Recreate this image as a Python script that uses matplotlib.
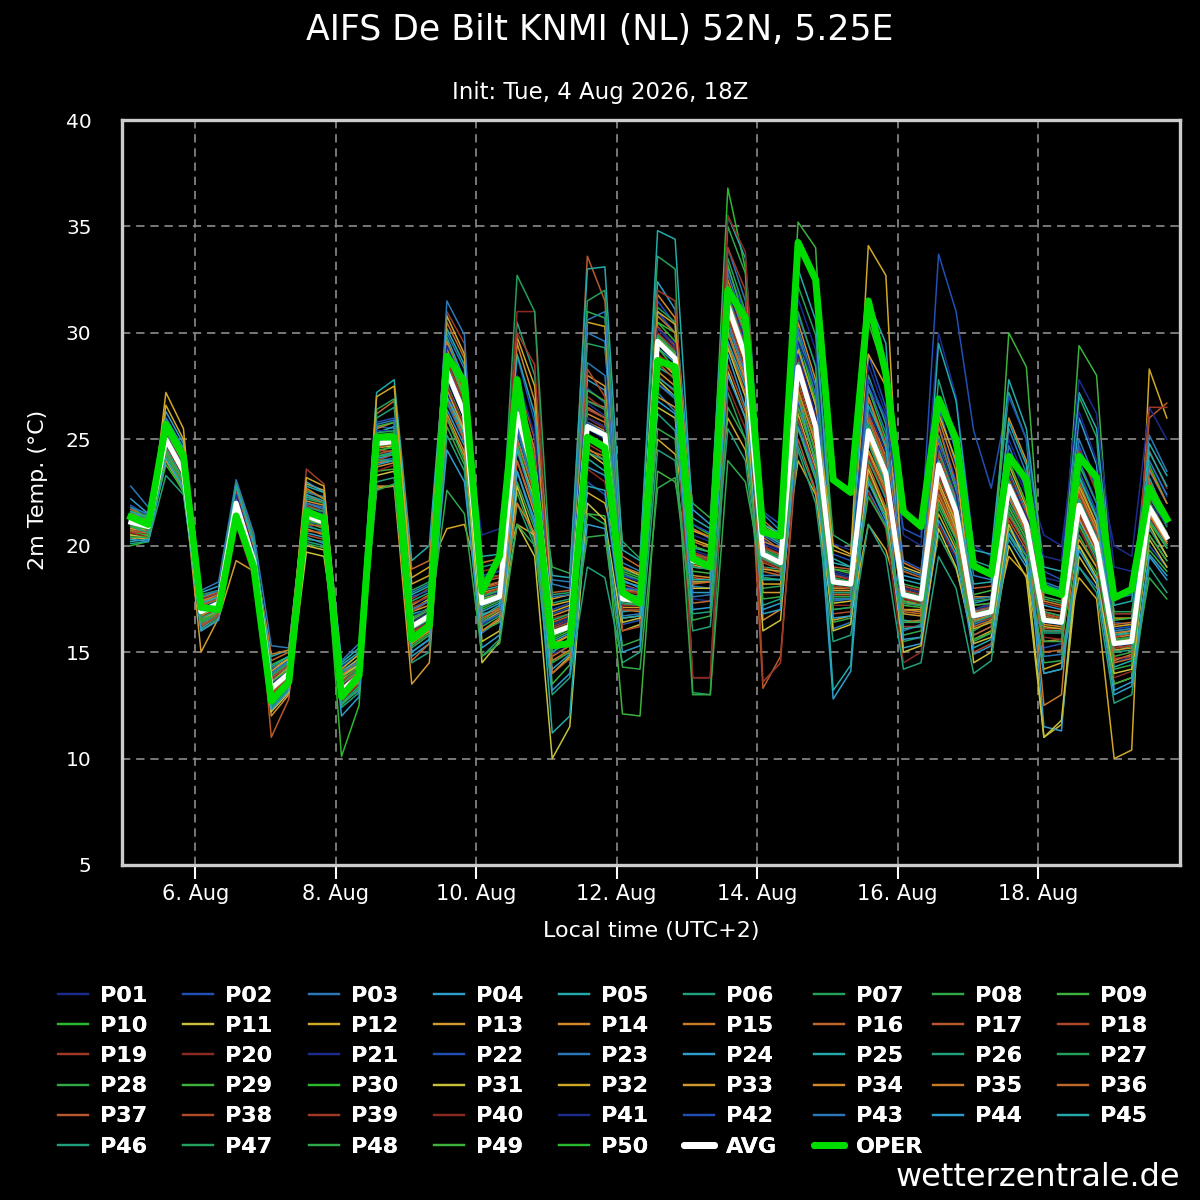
import numpy as np
import pandas as pd
import matplotlib
matplotlib.use('Agg')
import matplotlib.pyplot as plt
from matplotlib.lines import Line2D

# 6-hourly steps, local time (UTC+2)
times = pd.date_range('2026-08-05 02:00', periods=60, freq='6h')

avg = [21.1, 20.9, 25.0, 23.5, 16.9, 17.3, 22.0, 19.3, 13.3, 14.0, 21.4, 21.1,
       13.2, 13.9, 24.8, 24.9, 16.2, 16.7, 28.2, 26.2, 17.3, 17.6, 26.2, 23.3,
       15.9, 16.2, 25.6, 25.2, 17.5, 17.4, 29.6, 28.8, 19.3, 19.1, 31.3, 28.9,
       19.6, 19.2, 28.4, 25.6, 18.3, 18.2, 25.4, 23.4, 17.7, 17.5, 23.8, 21.6,
       16.7, 16.9, 22.8, 21.0, 16.5, 16.4, 21.9, 20.1, 15.4, 15.5, 21.8, 20.4]

oper = [21.35, 21.0, 25.7, 24.2, 17.1, 17.0, 21.4, 19.0, 12.7, 13.6, 21.6, 21.3,
        12.9, 13.9, 25.1, 25.1, 15.6, 16.25, 28.9, 27.7, 17.85, 19.5, 27.8, 23.0,
        15.3, 15.4, 25.1, 24.6, 17.8, 17.3, 28.7, 28.4, 19.4, 19.0, 32.0, 30.7,
        20.65, 20.45, 34.25, 32.5, 23.1, 22.5, 31.5, 28.1, 21.6, 20.9, 26.9, 25.0,
        19.05, 18.65, 24.2, 23.1, 18.0, 17.7, 24.2, 23.2, 17.55, 17.95, 22.7, 21.25]

# ensemble members P01..P50, one string of 60 values each
members = [
    "21.3 21.1 24.8 23.3 17.3 17.6 22.3 19.6 13.0 13.8 21.9 21.5 13.6 14.3 24.2 24.4 17.2 17.6 29.1 27.0 17.6 17.9 24.4 21.8 14.9 15.3 26.7 26.1 18.6 18.3 30.2 29.3 17.5 17.4 30.0 27.5 20.2 19.8 31.6 29.2 20.1 19.8 27.5 25.9 17.0 16.9 21.0 19.3 17.0 17.3 24.3 22.4 18.5 18.3 23.2 21.3 14.5 14.8 24.0 22.3",
    "20.8 20.6 25.6 24.0 16.5 17.0 21.6 19.0 13.8 14.4 21.0 20.6 12.9 13.6 25.6 25.5 15.6 16.3 27.3 25.2 18.6 18.8 28.9 25.8 16.8 17.1 23.0 22.4 16.3 16.5 31.5 30.4 20.8 20.3 33.0 30.9 18.5 18.4 26.8 24.0 17.0 17.1 29.0 26.5 19.3 18.9 25.7 23.0 15.8 16.2 21.0 19.6 15.2 15.4 24.7 22.6 16.4 16.3 20.0 19.0",
    "21.6 21.2 24.4 23.0 17.4 17.8 22.6 19.9 12.7 13.5 22.0 21.8 13.8 14.5 24.0 24.1 17.8 18.2 30.0 28.3 15.9 16.5 26.9 23.8 18.2 18.0 28.6 28.0 19.2 18.8 27.2 26.3 18.1 18.0 34.0 31.5 21.5 20.7 30.0 27.1 16.1 16.4 22.6 21.0 16.0 16.3 26.5 23.8 18.6 18.4 25.5 23.4 14.8 14.9 19.0 18.0 17.5 17.7 25.2 23.5",
    "22.2 21.5 26.0 24.6 17.8 18.1 21.2 18.6 14.0 14.6 20.6 20.4 12.6 13.2 23.9 24.0 15.0 15.6 26.4 24.7 16.8 17.0 23.5 21.0 14.2 14.9 27.8 27.3 18.4 18.0 32.4 31.1 21.7 21.0 29.0 26.5 17.0 17.3 27.0 23.8 12.8 14.1 24.1 22.2 18.6 18.4 22.0 20.3 17.3 17.5 20.3 19.0 17.2 17.0 26.0 23.8 13.2 13.6 19.6 18.6",
    "20.5 20.4 25.3 23.8 16.2 16.9 22.4 19.8 13.6 14.2 22.3 22.0 14.1 14.7 25.3 25.6 16.8 17.0 28.8 27.2 17.9 18.1 25.1 22.5 15.0 15.6 24.1 23.5 16.9 17.0 28.4 27.9 19.9 19.7 31.9 29.4 20.6 20.1 29.4 26.6 19.4 19.0 26.9 24.6 16.5 16.4 24.6 22.0 15.2 15.6 23.5 21.6 18.0 17.8 22.5 20.7 14.3 14.6 23.2 21.3",
    "21.0 20.8 24.6 23.2 17.1 17.4 22.1 19.5 12.4 13.3 20.9 20.7 13.4 14.0 26.0 26.5 17.4 17.8 29.5 27.8 19.0 19.2 30.5 28.0 17.3 17.5 26.5 26.0 18.9 18.6 26.2 25.4 16.8 16.9 30.2 27.8 19.0 18.9 24.7 22.5 18.7 18.5 28.0 25.7 17.9 17.6 27.8 25.0 19.3 19.0 27.2 25.0 15.9 15.9 21.0 19.3 16.0 16.1 20.8 19.5",
    "21.4 21.0 25.9 24.3 16.7 17.1 21.7 19.2 13.9 14.5 21.8 21.3 12.9 13.7 24.5 24.6 16.0 16.4 27.6 25.7 16.2 16.7 22.5 20.2 16.5 16.8 29.5 29.3 20.2 19.4 33.6 33.0 13.1 13.0 27.2 25.0 18.0 18.1 32.2 29.9 20.5 20.0 24.0 22.3 15.5 15.7 20.5 18.9 16.0 16.5 22.4 20.7 17.5 17.3 27.0 25.1 15.0 15.3 22.6 21.0",
    "20.7 20.7 24.2 22.8 16.0 16.6 21.9 19.1 13.0 13.7 20.3 20.2 13.9 14.6 24.6 24.8 15.3 15.9 25.6 23.8 17.0 17.4 27.5 24.5 19.0 18.7 31.0 30.7 17.8 17.6 29.0 28.0 22.0 21.3 35.0 32.8 19.9 19.5 28.0 25.0 17.6 17.6 25.2 23.0 18.2 18.0 23.2 21.4 16.4 16.8 22.0 20.5 16.7 16.5 20.5 19.0 14.8 15.0 21.2 19.9",
    "21.8 21.3 25.4 24.0 17.6 17.8 22.8 20.2 14.4 14.8 22.6 22.2 13.3 14.1 23.5 23.6 16.6 17.1 28.4 26.4 17.4 17.7 26.0 23.0 13.5 14.4 21.5 21.4 12.1 12.0 23.5 23.0 18.8 18.7 33.2 30.4 20.9 20.4 25.5 23.1 18.9 18.8 30.5 28.0 17.2 17.1 22.5 20.7 17.7 17.9 21.5 20.0 16.0 16.0 23.8 22.0 15.8 16.0 19.8 18.8",
    "20.0 20.2 24.0 22.5 16.4 16.9 22.5 19.9 12.9 13.6 21.2 20.9 10.1 12.5 25.2 25.3 15.8 16.3 29.0 26.8 16.5 17.0 24.8 22.0 15.6 16.0 25.0 24.6 17.2 17.3 30.5 29.6 21.0 20.5 36.8 33.0 19.5 19.3 29.8 26.8 18.0 18.0 27.4 25.0 17.9 17.7 25.2 22.6 17.0 17.2 24.0 22.0 17.8 17.6 22.2 20.3 15.5 15.7 23.8 22.0",
    "21.2 21.0 25.2 23.7 17.0 17.3 21.5 19.0 13.5 14.1 20.0 19.8 13.7 14.3 23.3 23.5 17.0 17.5 27.0 25.3 15.5 16.0 21.0 19.5 10.0 11.5 22.0 21.2 16.0 16.3 27.8 27.0 18.3 18.3 28.2 26.0 21.0 20.5 26.5 24.0 17.3 17.4 23.0 21.4 19.0 18.7 24.0 21.8 14.5 15.0 20.0 18.5 11.0 11.6 19.5 18.2 13.5 13.8 21.0 19.5",
    "20.4 20.3 27.2 25.5 16.3 16.8 21.5 19.0 14.2 14.7 22.9 22.6 14.0 14.7 22.7 22.8 18.5 19.0 20.8 21.0 18.0 18.3 21.0 20.5 16.9 17.2 22.5 22.0 19.0 18.6 25.0 24.3 20.3 20.0 26.0 24.5 18.2 18.2 24.0 22.4 16.5 16.7 21.0 19.8 17.0 17.0 21.5 19.8 15.6 16.0 19.5 18.6 14.2 14.5 18.5 17.5 10.0 10.4 28.3 26.0",
    "20.3 20.5 24.5 23.0 15.0 16.6 19.3 18.8 13.2 14.0 21.4 21.0 13.0 13.8 22.8 22.8 13.5 14.5 26.0 24.2 16.0 16.5 24.0 21.5 17.5 17.7 28.0 27.5 16.6 16.7 27.0 26.5 19.5 19.3 31.0 28.5 17.8 17.8 27.5 24.8 19.8 19.5 29.0 27.5 16.8 16.7 22.8 20.8 16.5 16.7 21.8 20.3 15.5 15.6 20.3 19.0 16.6 16.6 22.0 20.5",
    "21.5 21.2 24.7 23.3 17.2 17.5 22.2 19.4 12.0 13.0 20.8 20.5 13.5 14.1 24.8 25.0 16.4 16.9 29.3 27.1 17.8 18.0 29.5 26.8 15.3 15.8 26.0 25.6 18.0 17.8 31.8 30.7 19.0 18.9 31.8 29.2 16.5 17.0 30.5 27.8 17.8 17.8 24.5 22.7 17.4 17.2 23.0 21.0 16.8 17.0 26.0 24.0 16.3 16.2 21.5 19.8 15.2 15.3 20.5 19.3",
    "20.9 20.8 25.6 24.0 16.6 17.0 22.7 19.9 13.4 14.1 21.6 21.3 12.8 13.5 25.5 25.8 15.5 16.0 28.0 26.0 19.2 19.4 27.4 24.5 16.0 16.3 26.8 26.5 17.0 16.9 30.0 29.0 20.2 19.9 32.5 30.0 20.4 19.8 27.0 24.5 18.4 18.3 26.2 24.2 16.4 16.5 26.0 23.5 17.5 17.6 23.2 21.3 12.5 13.0 22.6 20.8 14.6 14.9 21.4 20.1",
    "21.7 21.3 24.9 23.4 17.4 17.6 21.4 18.9 14.6 15.0 22.4 22.0 14.0 14.6 26.2 26.8 18.9 19.3 30.5 28.8 16.6 17.0 25.6 23.0 14.8 15.3 24.6 24.0 19.5 19.0 28.8 28.0 17.3 17.4 29.5 27.2 21.2 20.5 29.0 26.0 18.2 18.1 23.8 21.8 18.8 18.5 25.6 22.8 16.2 16.5 23.0 21.0 17.0 16.9 23.0 21.0 16.3 16.4 23.0 21.5",
    "21.0 20.9 25.1 23.6 16.8 17.2 23.0 20.4 11.0 12.8 22.0 21.7 13.1 13.8 24.3 24.5 15.9 16.4 26.8 24.9 18.3 18.5 24.0 21.7 17.8 17.9 33.6 31.5 18.2 17.9 28.6 27.8 18.5 18.4 30.6 28.2 13.3 14.8 25.0 22.6 19.0 18.9 25.5 23.5 17.5 17.3 23.5 21.5 18.0 18.1 21.2 19.8 16.9 16.7 21.8 20.0 15.6 15.7 26.0 26.7",
    "20.6 20.6 25.7 24.2 16.3 16.8 21.8 19.2 13.1 13.8 20.5 20.3 13.6 14.4 24.0 24.3 16.3 16.8 28.6 26.5 18.0 18.2 27.8 25.0 15.8 16.2 28.3 27.0 16.0 16.2 29.8 29.1 13.8 13.8 28.5 26.3 19.2 18.9 28.2 25.3 16.8 16.9 27.0 24.8 18.1 17.9 23.4 21.2 15.0 15.4 21.4 20.0 16.1 16.1 22.0 20.3 14.7 14.8 21.9 20.6",
    "21.3 21.0 24.3 22.9 17.0 17.4 22.2 19.6 13.7 14.3 23.6 22.9 13.3 14.0 25.0 25.2 17.5 18.0 31.0 29.5 17.2 17.5 26.4 23.4 16.2 16.5 27.0 26.4 17.6 17.5 32.0 31.5 19.7 19.4 30.8 28.4 19.0 18.7 28.6 25.5 18.6 18.4 23.4 21.6 16.2 16.2 22.6 20.5 16.7 16.9 22.6 20.9 17.3 17.1 24.5 22.5 16.8 16.8 21.5 20.2",
    "20.8 20.5 24.6 23.1 16.9 17.2 21.0 18.5 13.4 14.0 21.3 21.0 12.7 13.5 23.5 23.8 17.1 17.4 27.5 25.6 18.8 19.0 31.0 31.0 14.6 15.0 23.6 23.0 17.9 17.7 28.0 27.2 13.8 13.8 27.5 25.5 20.0 19.6 27.5 24.7 17.2 17.2 22.5 20.8 14.5 15.0 21.0 19.5 17.2 17.3 23.4 21.5 15.7 15.6 20.8 19.2 13.8 14.1 24.5 22.7",
    "21.1 20.9 25.5 24.1 17.5 17.7 22.0 19.5 13.6 14.3 21.5 21.4 13.4 14.2 25.4 25.4 16.7 17.0 27.8 26.0 20.5 20.8 28.0 25.2 16.1 16.5 25.5 25.0 17.7 17.5 30.8 30.0 20.5 20.2 31.5 29.0 20.3 19.8 29.6 27.5 18.8 18.6 28.5 26.2 20.5 20.0 30.0 27.0 20.0 19.5 25.0 23.0 20.5 20.0 26.3 24.0 20.0 19.5 26.5 25.0",
    "21.9 21.4 25.0 23.6 17.3 17.5 22.6 20.0 14.2 14.6 21.1 21.0 14.3 14.9 25.8 26.0 17.6 17.9 28.0 26.2 16.3 16.8 25.4 22.6 17.0 17.3 27.4 26.7 18.6 18.4 31.0 30.0 21.0 20.6 30.4 28.0 21.6 21.0 30.8 28.5 19.6 19.3 27.8 26.0 20.8 20.4 33.7 31.0 25.4 22.7 27.0 25.0 18.8 18.4 23.5 21.6 16.1 16.2 23.5 22.0",
    "22.8 21.8 25.8 24.4 17.9 18.3 23.1 20.6 15.3 15.2 22.5 22.3 14.6 15.4 25.1 25.2 16.0 16.6 26.7 25.0 17.6 17.9 26.6 23.7 18.4 18.3 30.0 29.6 16.7 16.8 27.6 26.9 19.2 19.0 32.8 30.2 18.6 18.6 25.9 23.4 18.1 18.0 26.0 24.0 17.6 17.4 25.0 22.8 16.3 16.6 22.2 20.6 18.3 18.0 25.0 23.0 15.3 15.4 22.3 21.0",
    "21.4 21.1 26.3 24.8 16.6 17.0 21.3 18.7 13.8 14.4 23.0 22.5 13.0 13.6 24.1 24.3 14.8 15.4 29.8 27.8 16.9 17.3 25.8 22.9 15.5 15.9 23.7 23.3 18.3 18.1 29.3 28.6 17.8 17.8 31.2 28.8 19.7 19.4 28.8 25.8 17.5 17.5 24.9 22.9 15.2 15.4 24.3 22.2 16.9 17.1 22.9 21.0 11.5 11.3 21.2 19.6 15.9 16.0 21.7 20.3",
    "20.2 20.3 24.9 23.4 16.1 16.7 21.2 18.8 14.8 15.1 22.8 22.5 14.5 15.2 27.2 27.8 19.3 20.0 30.2 28.5 19.5 19.6 29.0 26.2 18.6 18.5 33.0 33.1 19.8 19.3 34.8 34.4 21.3 20.8 35.5 33.5 21.0 20.6 33.0 30.6 19.2 19.0 31.5 29.5 18.4 18.2 29.5 26.8 19.8 19.6 27.8 25.5 19.0 18.8 27.2 25.5 17.2 17.4 24.8 23.3",
    "20.1 20.2 23.3 22.4 16.4 16.7 21.9 19.0 12.6 13.5 20.2 20.0 12.4 13.1 23.0 23.2 14.5 15.0 25.2 23.5 14.8 15.6 22.0 20.0 13.0 13.8 19.0 18.5 14.5 15.0 24.5 24.0 16.0 16.2 25.5 24.0 17.2 17.5 24.5 22.0 15.5 15.8 21.0 19.5 14.2 14.5 19.5 18.0 14.0 14.6 20.5 19.2 14.0 14.2 19.0 17.8 12.6 13.0 19.0 17.8",
    "21.6 21.4 25.8 24.2 17.7 17.9 22.9 20.3 13.9 14.5 22.2 22.0 13.6 14.3 26.4 26.9 17.9 18.3 29.7 27.6 18.5 18.6 32.7 31.0 17.7 17.8 31.5 32.0 18.7 18.4 31.2 30.5 19.6 19.3 33.5 31.0 20.6 20.2 31.0 28.4 18.3 18.2 24.8 22.8 17.7 17.6 24.4 22.3 17.4 17.5 21.6 20.1 16.4 16.4 23.3 21.4 16.9 16.9 22.3 20.9",
    "20.9 20.7 24.3 22.8 16.8 17.1 21.6 19.1 12.6 13.4 20.1 19.9 12.5 13.3 22.6 22.9 15.2 15.8 26.0 24.0 16.0 16.4 23.0 20.8 16.3 16.6 21.5 21.0 15.3 15.6 25.5 25.0 13.0 13.0 24.0 23.0 18.5 18.4 27.2 24.3 16.4 16.6 23.2 21.4 15.8 16.0 21.8 20.0 15.5 15.9 20.8 19.5 14.5 14.6 20.0 18.7 13.5 13.8 18.5 17.5",
    "21.2 21.0 25.3 23.9 17.1 17.5 22.4 19.7 13.5 14.2 21.7 21.4 13.8 14.4 25.6 25.8 16.5 17.0 28.9 27.0 17.1 17.5 26.5 23.5 15.2 15.6 27.3 26.8 18.8 18.5 30.5 30.0 20.0 19.7 32.2 29.9 20.8 20.3 35.2 34.0 18.9 18.7 25.9 23.8 17.4 17.3 23.9 21.7 17.2 17.3 30.0 28.4 17.6 17.4 29.4 28.0 16.5 16.6 21.1 19.9",
    "20.6 20.5 23.8 22.6 16.5 16.9 22.1 19.3 13.3 14.0 21.1 20.8 13.2 13.9 24.4 24.7 16.1 16.6 28.2 26.1 17.7 17.9 25.8 22.8 15.7 16.1 25.2 24.8 17.4 17.3 29.3 28.3 19.4 19.2 31.5 28.7 19.8 19.4 28.5 25.6 18.5 18.3 25.3 23.2 17.8 17.5 23.6 21.6 16.6 16.9 22.6 20.9 16.6 16.4 21.8 20.1 15.4 15.5 21.9 20.4",
    "20.5 20.4 25.5 24.0 16.7 17.1 21.1 18.9 12.2 13.1 19.7 19.5 13.9 14.4 24.6 24.7 15.7 16.2 27.4 25.4 14.5 15.5 22.8 20.4 14.0 14.8 24.4 23.8 16.4 16.6 26.5 26.0 18.0 18.0 29.3 27.0 16.0 16.5 26.2 23.6 16.0 16.3 23.6 21.6 15.0 15.3 20.8 19.0 15.4 15.7 21.0 19.2 11.0 11.8 20.0 18.5 14.0 14.2 20.3 19.0",
    "21.3 21.0 26.6 25.0 17.6 17.8 22.5 19.9 14.1 14.7 23.2 22.8 14.2 14.9 27.0 27.5 18.2 18.6 30.8 29.0 17.5 17.8 29.8 27.5 17.2 17.4 30.5 30.3 18.5 18.2 31.0 30.4 20.7 20.4 30.0 27.8 18.9 18.8 29.2 26.6 20.0 19.6 34.1 32.7 17.3 17.2 26.2 24.0 16.1 16.4 23.8 21.8 16.2 16.1 22.8 21.0 16.2 16.3 22.8 21.3",
    "20.8 20.7 24.0 22.7 16.6 16.9 21.7 19.1 13.6 14.3 21.6 21.2 13.1 13.9 25.1 25.0 16.9 17.2 27.4 25.5 16.4 16.9 24.5 22.2 15.4 15.8 25.8 25.4 17.1 17.1 28.8 28.0 19.1 18.9 31.0 28.6 19.3 19.0 27.8 25.2 17.9 17.9 25.0 23.1 17.6 17.4 23.0 21.1 16.6 16.8 22.3 20.7 16.5 16.3 21.3 19.7 15.1 15.2 21.5 20.2",
    "21.5 21.2 24.8 23.3 17.3 17.6 21.8 19.2 13.1 13.9 22.1 21.9 12.9 13.6 23.7 23.9 15.4 16.0 26.2 24.4 17.3 17.6 27.0 24.0 16.7 17.0 26.2 25.8 17.3 17.2 28.2 27.5 18.6 18.5 30.5 28.0 19.4 19.1 27.3 24.8 18.0 18.0 24.4 22.5 17.0 16.9 22.2 20.4 17.6 17.6 22.7 21.0 16.8 16.6 21.6 19.9 15.7 15.8 21.6 20.1",
    "21.0 20.9 25.8 24.2 17.4 17.7 22.3 19.7 14.9 15.1 22.7 22.2 13.9 14.6 23.9 24.0 17.2 17.7 29.6 27.5 16.0 16.6 22.0 20.6 14.6 15.1 24.5 24.2 19.0 18.7 30.8 30.0 20.8 20.4 32.2 29.6 20.2 19.9 28.0 25.4 18.3 18.2 27.0 24.6 19.2 18.8 24.8 22.3 16.5 16.7 23.0 21.2 17.4 17.2 22.5 20.6 15.9 16.0 23.6 22.0",
    "20.7 20.6 24.5 23.1 16.7 17.0 22.0 19.5 12.8 13.6 20.7 20.6 13.5 14.1 24.7 24.9 14.6 15.4 27.0 25.0 16.7 17.1 25.0 22.4 14.0 14.7 26.5 26.0 17.6 17.5 29.0 28.1 18.2 18.3 30.0 27.7 18.8 18.6 28.4 25.6 17.7 17.7 26.0 23.9 16.9 16.8 22.4 20.6 15.8 16.2 22.3 20.6 15.0 15.1 22.0 20.3 14.5 14.7 22.1 20.6",
    "21.2 21.1 24.4 23.0 17.2 17.5 21.3 19.0 13.3 14.0 21.0 20.9 13.2 14.0 24.5 24.4 16.6 17.0 28.0 26.0 18.1 18.3 27.2 24.2 16.4 16.7 25.0 24.5 17.5 17.4 29.5 28.8 19.3 19.1 31.2 28.8 19.6 19.3 28.3 25.5 18.4 18.3 25.6 23.6 17.5 17.4 23.8 21.6 16.9 17.0 22.8 20.9 16.7 16.5 22.2 20.3 15.5 15.6 21.7 20.3",
    "20.6 20.7 25.1 23.7 16.2 16.7 22.1 19.3 13.8 14.4 21.9 21.6 13.3 13.9 24.6 24.8 16.9 17.4 29.0 27.3 17.7 18.0 26.0 23.3 16.1 16.4 26.4 26.0 17.9 17.8 30.3 29.4 19.6 19.4 31.8 29.5 19.9 19.6 28.8 26.0 18.6 18.5 26.2 24.0 18.0 17.8 24.3 22.0 17.0 17.1 23.3 21.5 16.8 16.6 22.4 20.6 15.7 15.9 21.9 20.6",
    "21.4 21.1 25.2 23.8 17.5 17.8 22.5 19.8 13.0 13.8 21.5 21.2 13.6 14.2 25.0 25.1 17.3 17.6 28.7 26.7 18.4 18.6 30.0 28.5 15.9 16.3 24.8 24.3 17.0 17.0 30.0 29.2 19.5 19.3 34.0 32.0 13.6 14.5 26.0 23.5 18.1 18.0 24.2 22.4 17.9 17.7 23.3 21.4 16.4 16.6 22.5 20.8 16.0 16.0 21.4 19.8 15.2 15.3 26.5 26.5",
    "20.6 20.4 24.7 23.2 16.6 17.1 21.6 19.0 13.5 14.1 21.2 21.0 13.4 14.0 24.9 24.9 16.0 16.4 27.5 25.6 17.3 17.6 25.9 23.0 16.6 16.8 26.0 25.5 17.2 17.2 29.0 28.4 19.4 19.2 35.5 33.8 19.3 19.0 27.9 25.2 18.2 18.1 25.2 23.3 17.5 17.3 23.5 21.4 16.7 16.9 22.6 20.9 16.5 16.4 21.6 19.9 15.3 15.4 21.3 20.0",
    "21.3 21.0 25.2 23.7 17.1 17.4 22.4 19.7 13.5 14.2 21.5 21.3 13.3 14.0 25.1 25.2 16.4 16.9 29.4 27.6 17.6 17.8 26.8 23.9 16.3 16.6 26.0 25.6 18.1 17.9 30.2 29.5 19.8 19.5 32.0 29.6 20.1 19.7 29.0 26.2 18.7 18.5 26.4 24.4 18.0 17.8 24.7 22.4 17.0 17.2 23.3 21.4 19.5 19.3 27.8 26.2 19.0 18.8 22.0 21.0",
    "21.0 20.8 24.9 23.4 16.9 17.3 22.2 19.4 13.2 13.9 21.3 21.0 13.1 13.8 24.9 25.0 16.2 16.6 28.5 26.4 17.2 17.5 26.3 23.3 15.8 16.1 25.8 25.3 17.4 17.3 29.7 28.9 19.2 19.0 31.4 28.9 19.6 19.2 28.3 25.6 18.2 18.1 25.3 23.3 17.6 17.4 23.7 21.5 16.6 16.8 22.7 20.9 16.4 16.3 21.8 20.1 15.3 15.4 21.8 20.3",
    "21.8 21.5 26.0 24.5 17.6 17.9 21.8 19.3 14.0 14.6 22.0 21.7 14.0 14.6 25.7 25.9 17.0 17.4 31.5 29.9 16.4 16.8 25.6 22.5 17.6 17.7 30.6 31.0 18.0 17.9 27.6 27.0 17.6 17.7 30.5 28.1 20.5 20.0 30.2 27.5 17.4 17.5 27.5 25.3 18.9 18.6 27.0 24.4 17.5 17.6 24.7 22.6 18.2 17.9 24.0 22.0 16.0 16.1 24.0 22.4",
    "20.3 20.2 24.1 22.7 16.0 16.5 21.4 18.8 12.3 13.2 20.4 20.1 12.0 12.9 23.8 24.0 15.0 15.6 24.5 23.0 15.2 15.8 23.5 21.2 13.2 14.0 21.0 20.8 15.0 15.3 26.8 26.2 17.0 17.1 28.0 26.0 16.8 17.0 25.6 23.3 16.6 16.7 23.0 21.2 15.6 15.7 21.2 19.6 14.9 15.3 20.6 19.3 14.0 14.2 19.8 18.4 13.0 13.4 19.5 18.4",
    "21.6 21.3 25.0 23.6 17.3 17.6 22.8 20.1 14.3 14.8 22.4 22.1 14.4 15.0 24.2 24.4 17.7 18.1 27.0 25.2 16.7 17.2 24.6 21.8 11.2 12.0 22.8 22.6 16.6 16.7 27.9 27.3 18.4 18.4 29.6 27.5 18.4 18.4 28.0 25.5 13.2 14.4 26.6 24.7 16.1 16.2 24.0 22.0 18.2 18.3 25.8 23.8 17.9 17.6 23.2 21.3 15.8 15.9 24.4 22.8",
    "20.9 20.6 24.6 23.1 16.6 17.0 21.5 19.0 12.5 13.4 21.4 21.0 12.6 13.4 24.0 24.0 16.1 16.5 28.3 26.4 17.4 17.7 26.7 23.6 15.0 15.5 24.4 24.0 17.3 17.2 29.8 28.9 19.0 18.9 31.6 29.0 19.4 19.0 28.6 25.8 17.8 17.8 25.7 23.6 17.3 17.2 23.8 21.7 16.4 16.7 22.5 20.9 16.0 16.0 22.2 20.4 15.0 15.1 21.2 20.0",
    "21.4 21.3 25.6 24.1 17.0 17.3 21.9 19.4 13.9 14.5 21.8 21.6 13.5 14.2 25.3 25.4 16.6 17.0 28.1 26.2 17.6 17.9 26.9 23.9 16.5 16.8 26.8 26.4 17.7 17.6 29.9 29.1 19.4 19.2 31.7 29.2 19.8 19.4 28.4 25.7 18.5 18.3 25.6 23.6 17.8 17.6 23.9 21.7 16.8 17.0 23.0 21.2 16.9 16.7 22.0 20.2 15.6 15.7 22.0 20.6",
    "20.4 20.4 24.4 23.0 16.4 16.9 21.7 19.2 13.2 13.9 21.2 21.0 13.2 13.8 24.2 24.3 15.8 16.3 22.6 21.5 14.8 15.4 21.0 20.0 14.5 15.0 20.4 20.5 14.3 14.2 22.7 23.2 16.5 16.7 26.5 25.0 17.5 17.6 26.5 24.0 17.0 17.1 22.3 20.9 16.4 16.4 22.0 20.3 15.6 15.9 21.8 20.3 15.5 15.5 21.0 19.5 14.2 14.4 20.5 19.3",
    "21.1 20.9 25.5 24.0 17.0 17.3 22.0 19.4 13.6 14.2 21.2 21.0 13.2 13.9 25.0 25.0 16.3 16.8 28.3 26.3 17.5 17.7 26.4 23.4 16.0 16.3 25.7 25.3 17.4 17.3 29.8 29.0 19.3 19.1 31.5 29.0 19.5 19.2 28.5 25.6 18.3 18.2 25.5 23.5 17.6 17.5 23.9 21.7 16.8 17.0 23.0 21.1 16.6 16.5 22.0 20.2 15.5 15.6 21.9 20.5",
    "20.9 20.8 25.0 23.5 16.8 17.2 22.0 19.3 13.3 14.0 21.4 21.1 13.0 13.8 24.7 24.8 16.1 16.6 28.2 26.2 17.3 17.6 26.1 23.3 15.8 16.1 25.5 25.1 17.5 17.4 29.6 28.8 19.2 19.0 31.2 28.8 19.5 19.1 28.3 25.5 18.2 18.1 25.3 23.3 17.6 17.4 23.7 21.5 16.7 16.9 22.8 21.0 16.5 16.4 21.9 20.1 15.4 15.5 21.8 20.4",
]
member_names = [f'P{k:02d}' for k in range(1, 51)]

tick_days = pd.to_datetime(['2026-08-06', '2026-08-08', '2026-08-10', '2026-08-12',
                            '2026-08-14', '2026-08-16', '2026-08-18'])
tick_labels = ['6. Aug', '8. Aug', '10. Aug', '12. Aug', '14. Aug', '16. Aug', '18. Aug']
yticks = [5, 10, 15, 20, 25, 30, 35, 40]

# member colours repeat every 20 members
palette = ['#1c2c8c', '#2050b4', '#2a78b8', '#2e9ccc', '#22aaaa', '#20a07c',
           '#24a05a', '#30a848', '#3cb23c', '#2cb82c', '#c8c038', '#d0a826',
           '#d09a30', '#d08a2a', '#c87a28', '#c0682c', '#b8582c', '#b0482a',
           '#a03a26', '#8c2a22']
oper_color = '#00dd00'

fig = plt.figure(figsize=(12, 12), dpi=100, facecolor='black')
ax = fig.add_axes([122 / 1200, 1 - 865 / 1200, 1058 / 1200, 745 / 1200])
ax.set_facecolor('black')

for k, row in enumerate(members):
    vals = np.array(row.split(), dtype=float)
    ax.plot(times, vals, color=palette[k % 20], lw=1.1)
ax.plot(times, avg, color='white', lw=3.6)
ax.plot(times, oper, color=oper_color, lw=5)

ax.set_xlim(pd.Timestamp('2026-08-04 23:00'), pd.Timestamp('2026-08-20 00:30'))
ax.set_ylim(5, 40)
ax.set_xticks(tick_days)
ax.set_xticklabels(tick_labels)
ax.set_yticks(yticks)
ax.set_axisbelow(True)
ax.grid(True, color='#8c8c8c', lw=1.2, ls=(0, (5, 3.5)))
for sp in ax.spines.values():
    sp.set_color('#cccccc')
    sp.set_linewidth(2.4)
ax.tick_params(axis='x', colors='white', length=10, width=1.5, labelsize=15, pad=4)
ax.tick_params(axis='y', length=0, labelsize=14.5, labelcolor='white', pad=22)

fig.text(0.5, 1 - 30 / 1200, 'AIFS De Bilt KNMI (NL) 52N, 5.25E', color='white',
         ha='center', va='center', fontsize=25)
fig.text(0.5, 1 - 92 / 1200, 'Init: Tue, 4 Aug 2026, 18Z', color='white',
         ha='center', va='center', fontsize=16.5)
fig.text(651 / 1200, 1 - 931 / 1200, 'Local time (UTC+2)', color='white',
         ha='center', va='center', fontsize=16)
fig.text(38 / 1200, 1 - 490 / 1200, '2m Temp. (°C)', color='white',
         ha='center', va='center', rotation=90, fontsize=16)
fig.text(1180 / 1200, 1 - 1178 / 1200, 'wetterzentrale.de', color='white',
         ha='right', va='center', fontsize=23)

# legend: row-major like the original (matplotlib fills column-major);
# split in two so the wide OPER label does not push the last columns
handles = [Line2D([], [], color=palette[k % 20], lw=1.6) for k in range(50)]
handles.append(Line2D([], [], color='white', lw=5, solid_capstyle='round'))
handles.append(Line2D([], [], color=oper_color, lw=5, solid_capstyle='round'))
labels = member_names + ['AVG', 'OPER']
ncol, nrow = 9, 6
leg_kw = dict(loc='upper left', frameon=False, labelcolor='white',
              prop={'weight': 'bold', 'size': 16},
              handlelength=1.35, handletextpad=0.54, columnspacing=1.62,
              labelspacing=0.455, borderpad=0, borderaxespad=0)
for cols, x0 in [(range(0, 7), 58), (range(7, 9), 933)]:
    order = [r * ncol + c for c in cols for r in range(nrow) if r * ncol + c < len(labels)]
    leg = fig.legend([handles[i] for i in order], [labels[i] for i in order],
                     bbox_to_anchor=(x0 / 1200, 1 - 986 / 1200), ncol=len(cols), **leg_kw)
    fig.add_artist(leg)

fig.savefig('out.png', dpi=100, facecolor='black')
